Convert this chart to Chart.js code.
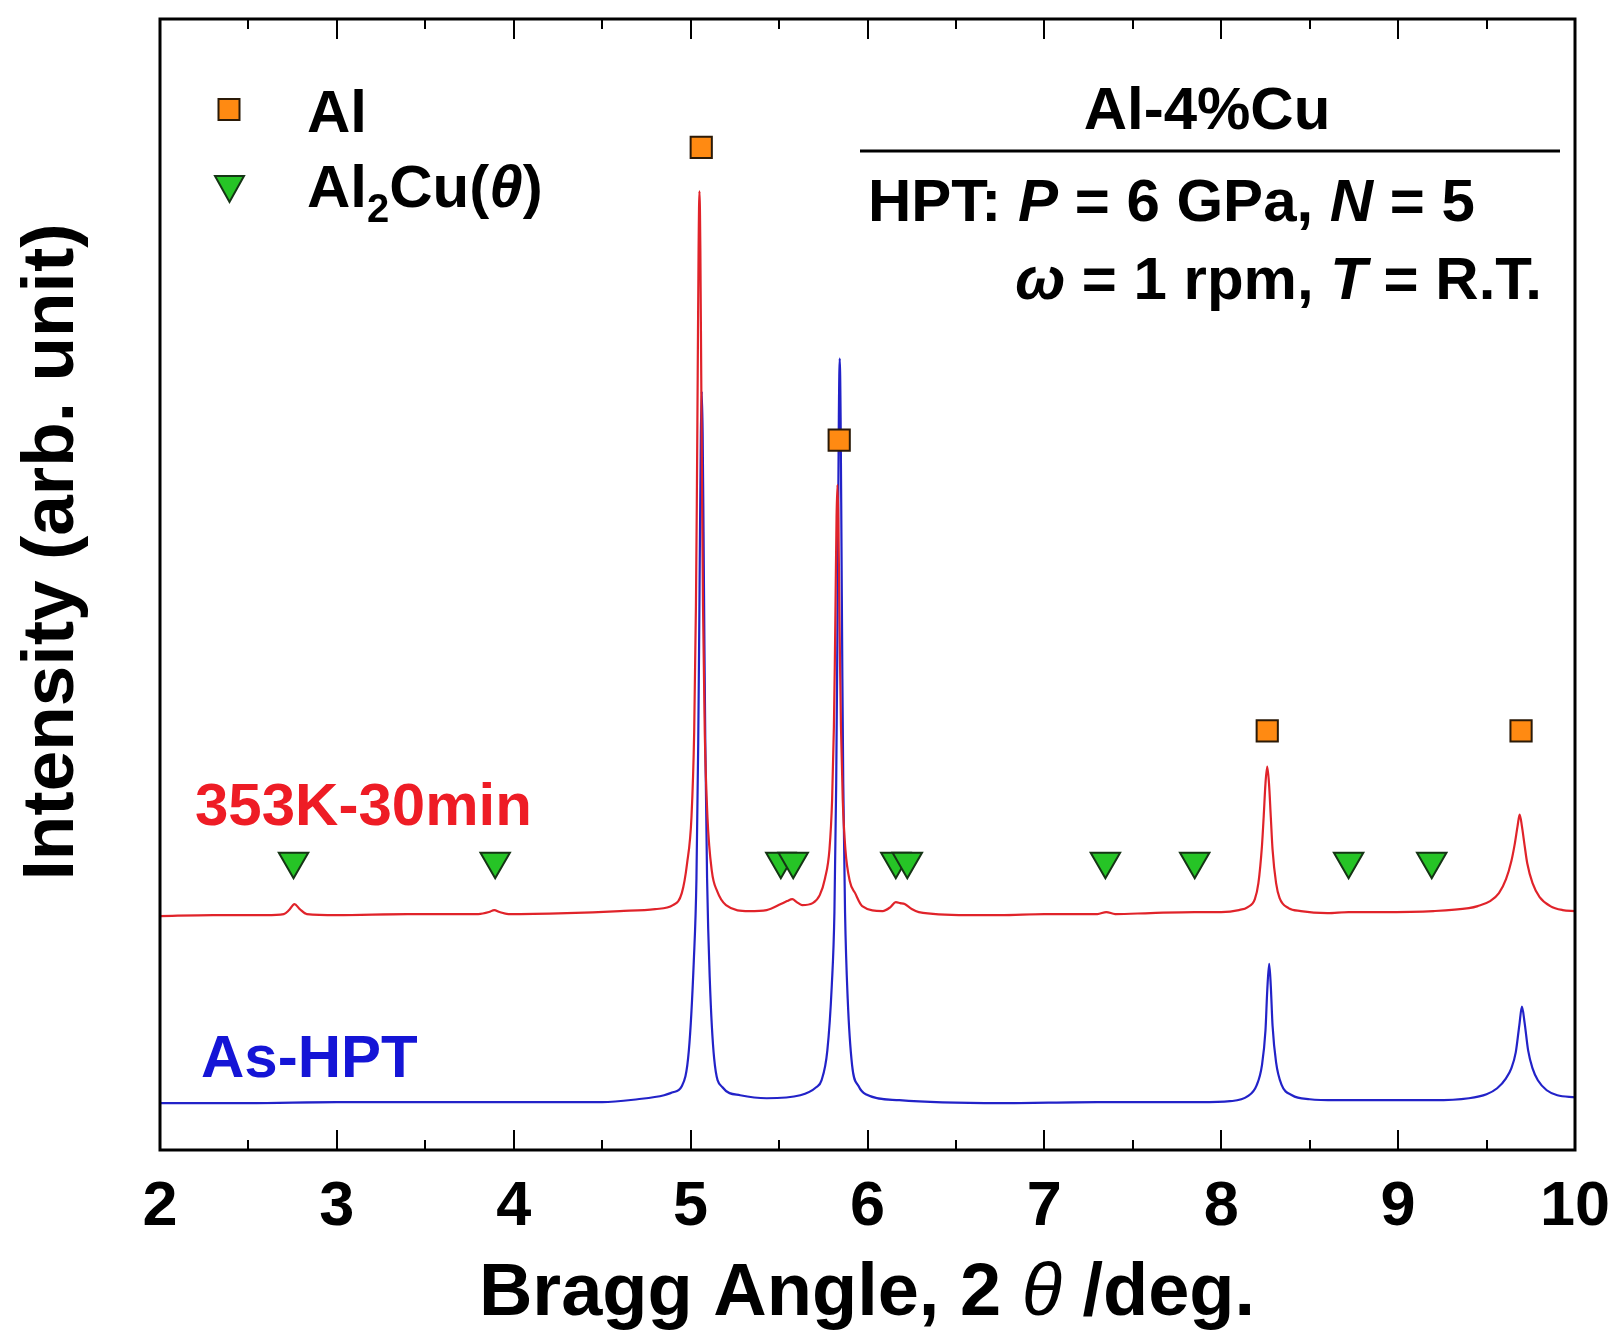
<!DOCTYPE html>
<html>
<head>
<meta charset="utf-8">
<script src="https://cdn.jsdelivr.net/npm/chart.js@4.4.1/dist/chart.umd.min.js"></script>
<style>
html, body { margin: 0; padding: 0; background: #fff; }
#chart { display: block; }
</style>
</head>
<body>
<canvas id="chart" width="1615" height="1330"></canvas>
<script>
// x range and ticks (2theta, deg)
const xMin = 2, xMax = 10;
const xTicks = [2, 3, 4, 5, 6, 7, 8, 9, 10];

// intensity, arbitrary units (offset traces)
const redPts = [ // 353K-30min
  [2.00, 235], [2.30, 236], [2.60, 236], [2.70, 237], [2.73, 241], [2.76, 247], [2.79, 242], [2.83, 237],
  [3.00, 236], [3.40, 237], [3.80, 237], [3.86, 239], [3.89, 241], [3.92, 239], [3.97, 237],
  [4.30, 238], [4.60, 240], [4.80, 242], [4.90, 246], [4.95, 258], [4.98, 288],
  [5.005, 335], [5.02, 419], [5.03, 546], [5.035, 649], [5.04, 778], [5.045, 905], [5.05, 963],
  [5.055, 905], [5.06, 778], [5.065, 649], [5.07, 546], [5.08, 419], [5.095, 335], [5.12, 280],
  [5.15, 260], [5.20, 246], [5.33, 240], [5.43, 241], [5.51, 247], [5.545, 250], [5.575, 252],
  [5.60, 249], [5.63, 246], [5.69, 248], [5.73, 256], [5.76, 273], [5.785, 302], [5.80, 352],
  [5.81, 425], [5.815, 485], [5.82, 561], [5.825, 635], [5.83, 668], [5.835, 635], [5.84, 561],
  [5.845, 485], [5.85, 425], [5.86, 352], [5.875, 302], [5.90, 270], [5.93, 258], [5.97, 245],
  [6.085, 240], [6.13, 244], [6.16, 249], [6.185, 248], [6.21, 247], [6.25, 242], [6.29, 239],
  [6.56, 236], [6.75, 236], [7.00, 237], [7.30, 237], [7.35, 239], [7.40, 237], [7.60, 238],
  [7.85, 239], [8.00, 239], [8.10, 241], [8.15, 244], [8.19, 252], [8.21, 268], [8.23, 305],
  [8.24, 335], [8.25, 368], [8.26, 385], [8.27, 368], [8.28, 335], [8.29, 302], [8.31, 268],
  [8.33, 253], [8.38, 243], [8.45, 240], [8.60, 238], [8.72, 239], [8.90, 239], [9.20, 240],
  [9.40, 243], [9.45, 245], [9.52, 250], [9.57, 258], [9.61, 272], [9.64, 290], [9.66, 308],
  [9.675, 325], [9.687, 337], [9.70, 325], [9.715, 306], [9.73, 288], [9.76, 268], [9.80, 254],
  [9.86, 245], [9.93, 241], [10.00, 240]
];

const bluePts = [ // As-HPT
  [2.00, 47], [2.50, 47], [3.00, 48], [3.50, 48], [4.00, 48], [4.50, 48], [4.70, 51], [4.85, 55],
  [4.90, 58], [4.95, 64], [4.99, 100], [5.018, 190], [5.033, 273], [5.043, 409], [5.048, 508],
  [5.053, 621], [5.058, 720], [5.063, 762], [5.068, 720], [5.073, 621], [5.078, 508], [5.083, 409],
  [5.093, 273], [5.108, 173], [5.133, 92], [5.18, 63], [5.28, 55], [5.43, 52], [5.62, 55],
  [5.71, 63], [5.74, 70], [5.773, 100], [5.798, 165], [5.813, 239], [5.823, 368], [5.828, 473],
  [5.833, 606], [5.838, 736], [5.843, 795], [5.848, 736], [5.853, 606], [5.858, 473], [5.863, 368],
  [5.873, 239], [5.888, 152], [5.913, 85], [5.95, 64], [5.99, 56], [6.18, 50], [6.75, 47],
  [7.30, 48], [7.88, 48], [8.05, 49], [8.15, 54], [8.20, 65], [8.23, 85], [8.25, 120], [8.26, 160],
  [8.271, 187], [8.28, 165], [8.29, 125], [8.31, 88], [8.34, 66], [8.40, 55], [8.50, 51], [8.65, 50],
  [9.20, 50], [9.40, 52], [9.50, 56], [9.56, 62], [9.61, 72], [9.64, 82], [9.665, 98], [9.685, 125],
  [9.70, 144], [9.715, 128], [9.735, 100], [9.76, 82], [9.79, 70], [9.84, 60], [9.90, 55], [10.00, 53]
];

// phase markers
const alX = [5.06, 5.84, 8.26, 9.695];
const alY = [1007, 713, 421, 421];
const thetaX = [2.755, 3.895, 5.51, 5.58, 6.16, 6.225, 7.345, 7.85, 8.72, 9.19];
const thetaY = [290, 290, 290, 290, 290, 290, 290, 290, 290, 290];

const FAM = '"Liberation Sans", Arial, sans-serif';
const B = s => 'bold ' + s + 'px ' + FAM;
const BI = s => 'italic bold ' + s + 'px ' + FAM;
const I = s => 'italic ' + s + 'px ' + FAM;

const RED = '#e0232a', BLUE = '#2222c8';
const ORANGE = '#ff8a12', GREEN = '#26c426';

function richText(ctx, parts, x, y, align) {
  let w = 0;
  parts.forEach(p => { ctx.font = p[1]; w += ctx.measureText(p[0]).width; });
  let cx = align === 'right' ? x - w : align === 'center' ? x - w / 2 : x;
  ctx.textAlign = 'left';
  parts.forEach(p => {
    ctx.font = p[1];
    ctx.fillText(p[0], cx, y + (p[2] || 0));
    cx += ctx.measureText(p[0]).width;
  });
}

const decor = {
  id: 'decor',
  afterDatasetsDraw(chart) {
    const { ctx, chartArea: a, scales: { x } } = chart;
    ctx.save();
    ctx.strokeStyle = '#000';
    ctx.lineWidth = 2;
    for (let v = xMin + 0.5; v < xMax; v += 0.5) {
      const px = Math.round(x.getPixelForValue(v));
      const len = Number.isInteger(v) ? 20 : 10;
      ctx.beginPath();
      ctx.moveTo(px, a.bottom); ctx.lineTo(px, a.bottom - len);
      ctx.moveTo(px, a.top); ctx.lineTo(px, a.top + len);
      ctx.stroke();
    }
    ctx.lineWidth = 3;
    ctx.strokeRect(a.left, a.top, a.right - a.left, a.bottom - a.top);
    ctx.restore();
  },
  afterDraw(chart) {
    const ctx = chart.ctx;
    ctx.save();
    ctx.fillStyle = '#000';
    ctx.textBaseline = 'alphabetic';

    // axis titles
    richText(ctx, [['Bragg Angle, 2 ', B(74)], ['θ', I(74)], [' /deg.', B(74)]], 867, 1315, 'center');
    ctx.save();
    ctx.translate(73, 552);
    ctx.rotate(-Math.PI / 2);
    ctx.font = B(73);
    ctx.textAlign = 'center';
    ctx.fillText('Intensity (arb. unit)', 0, 0);
    ctx.restore();

    // legend
    ctx.lineWidth = 2;
    ctx.fillStyle = ORANGE; ctx.strokeStyle = '#2b1a08';
    ctx.fillRect(218.5, 99, 21, 21); ctx.strokeRect(218.5, 99, 21, 21);
    ctx.fillStyle = GREEN; ctx.strokeStyle = '#153515';
    ctx.beginPath(); ctx.moveTo(215, 176); ctx.lineTo(244, 176); ctx.lineTo(229.5, 202); ctx.closePath();
    ctx.fill(); ctx.stroke();
    ctx.fillStyle = '#000';
    richText(ctx, [['Al', B(60)]], 307, 132);
    richText(ctx, [['Al', B(60)], ['2', B(40), 15], ['Cu(', B(60)], ['θ', BI(60)], [')', B(60)]], 307, 207);

    // sample conditions
    richText(ctx, [['Al-4%Cu', B(60)]], 1207, 129, 'center');
    ctx.lineWidth = 3; ctx.strokeStyle = '#000';
    ctx.beginPath(); ctx.moveTo(860, 151); ctx.lineTo(1560, 151); ctx.stroke();
    richText(ctx, [['HPT: ', B(60)], ['P', BI(60)], [' = 6 GPa, ', B(60)], ['N', BI(60)], [' = 5', B(60)]], 868, 221);
    richText(ctx, [['ω', BI(60)], [' = 1 rpm, ', B(60)], ['T', BI(60)], [' = R.T.', B(60)]], 1542, 299, 'right');

    // trace labels
    ctx.fillStyle = '#ee1c25';
    richText(ctx, [['353K-30min', B(60)]], 195, 825);
    ctx.fillStyle = '#1515d6';
    richText(ctx, [['As-HPT', B(60)]], 201, 1077);
    ctx.restore();
  }
};

new Chart(document.getElementById('chart'), {
  type: 'line',
  data: {
    datasets: [
      {
        label: 'Al',
        data: alX.map((v, i) => ({ x: v, y: alY[i] })),
        showLine: false,
        pointStyle: 'rect',
        pointRadius: 15,
        pointBackgroundColor: ORANGE,
        pointBorderColor: '#2b1a08',
        pointBorderWidth: 2,
        order: 0
      },
      {
        label: 'Al2Cu',
        data: thetaX.map((v, i) => ({ x: v, y: thetaY[i] })),
        showLine: false,
        pointStyle: 'triangle',
        pointRotation: 180,
        pointRadius: 17,
        pointBackgroundColor: GREEN,
        pointBorderColor: '#153515',
        pointBorderWidth: 2,
        order: 1
      },
      {
        label: '353K-30min',
        data: redPts.map(p => ({ x: p[0], y: p[1] })),
        borderColor: RED,
        borderWidth: 2.2,
        pointRadius: 0,
        fill: false,
        cubicInterpolationMode: 'monotone',
        order: 2
      },
      {
        label: 'As-HPT',
        data: bluePts.map(p => ({ x: p[0], y: p[1] })),
        borderColor: BLUE,
        borderWidth: 2.2,
        pointRadius: 0,
        fill: false,
        cubicInterpolationMode: 'monotone',
        order: 3
      }
    ]
  },
  options: {
    responsive: false,
    animation: false,
    devicePixelRatio: 1,
    layout: { padding: { left: 160, right: 40, top: 14, bottom: 0 } },
    plugins: { legend: { display: false }, tooltip: { enabled: false } },
    scales: {
      x: {
        type: 'linear',
        min: xMin,
        max: xMax,
        grid: { display: false },
        border: { display: false },
        afterBuildTicks: scale => { scale.ticks = xTicks.map(v => ({ value: v })); },
        afterFit: scale => {
          scale.height = 180;
          scale.paddingLeft = 0;
          scale.paddingRight = 0;
        },
        ticks: {
          color: '#000',
          padding: 12,
          maxRotation: 0,
          autoSkip: false,
          font: { family: FAM, size: 63, weight: 'bold' }
        }
      },
      y: {
        display: false,
        min: 0,
        max: 1136
      }
    }
  },
  plugins: [decor]
});
</script>
</body>
</html>
